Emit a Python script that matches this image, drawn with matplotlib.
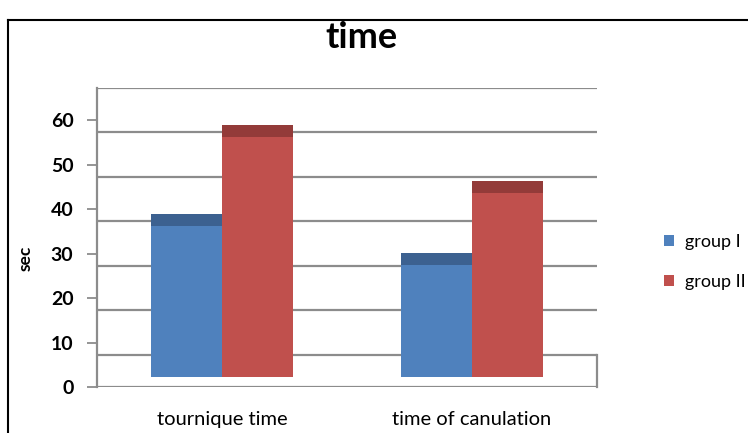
import matplotlib.pyplot as plt
from matplotlib.lines import Line2D
from matplotlib.patches import Patch
import numpy as np

plt.rcParams['font.family'] = ['Lato', 'DejaVu Sans']

# data
categories = ["tournique time", "time of canulation"]
group_names = ["group I", "group II"]
group1 = [33.9, 25.2]
group2 = [54.0, 41.4]
yticks = [0, 10, 20, 30, 40, 50, 60]

# colours of the fake 3d look
face_cols = ["#4F81BD", "#C0504D"]
top_cols = ["#3C6190", "#933B39"]
grid_col = "#8C8C8C"

# depth offsets in value units (excel style 3d bars)
wall_off = 7.2      # back wall shift
bar_off = 2.25      # bar front sits behind the floor edge
top_depth = 2.7     # visible top face

fig = plt.figure(figsize=(7.48, 4.33), dpi=100)
ax = fig.add_axes([97 / 748, 1 - 387 / 433, 500 / 748, 299 / 433])

x = np.arange(len(categories))
w = 0.284

# back wall gridlines
for t in yticks:
    ax.axhline(t + wall_off, color=grid_col, lw=1.6, zorder=1)
ax.axhline(0, color=grid_col, lw=1.6, zorder=1)
ax.plot([1.5, 1.5], [0, wall_off], color=grid_col, lw=1.6, zorder=1, clip_on=False)

for i, vals in enumerate([group1, group2]):
    xs = x - w / 2 + i * w
    ax.bar(xs, vals, width=w, bottom=bar_off, color=face_cols[i],
           edgecolor="none", zorder=3, label=group_names[i])
    ax.bar(xs, top_depth, width=w, bottom=np.array(vals) + bar_off,
           color=top_cols[i], edgecolor="none", zorder=3)

ax.set_xlim(-0.5, 1.5)
ax.set_ylim(0, 60 + wall_off)
ax.set_yticks(yticks)
ax.set_yticklabels([str(t) for t in yticks], fontsize=14, fontweight="bold",
                   color="black")
ax.set_xticks(x)
ax.set_xticklabels(categories, fontsize=14.5, color="black")
ax.tick_params(axis="x", length=0, pad=17)
ax.tick_params(axis="y", length=7, width=1.3, color=grid_col, pad=10)

for s in ["top", "right", "bottom"]:
    ax.spines[s].set_visible(False)
ax.spines["left"].set_color(grid_col)
ax.spines["left"].set_linewidth(1.6)

ax.set_ylabel("sec", fontsize=12.5, fontweight="bold", va="center")
ax.yaxis.set_label_coords((26 - 97) / 500, (387 - 258) / 299)

fig.text(361 / 748, 1 - 38 / 433, "time", fontsize=26, fontweight="bold",
         ha="center", va="center")

handles = [Patch(facecolor=c, edgecolor="none") for c in face_cols]
fig.legend(handles, group_names, loc="center left",
           bbox_to_anchor=(648 / 748, 1 - 262 / 433), frameon=False,
           fontsize=13, handlelength=0.55, handleheight=0.55,
           handletextpad=0.6, labelspacing=1.3)

# outer chart border
fig.add_artist(Line2D([8 / 748, 1], [1 - 20 / 433, 1 - 20 / 433], color="black", lw=1.5))
fig.add_artist(Line2D([8 / 748, 8 / 748], [0, 1 - 20 / 433], color="black", lw=1.5))

fig.savefig("out.png", dpi=100)
